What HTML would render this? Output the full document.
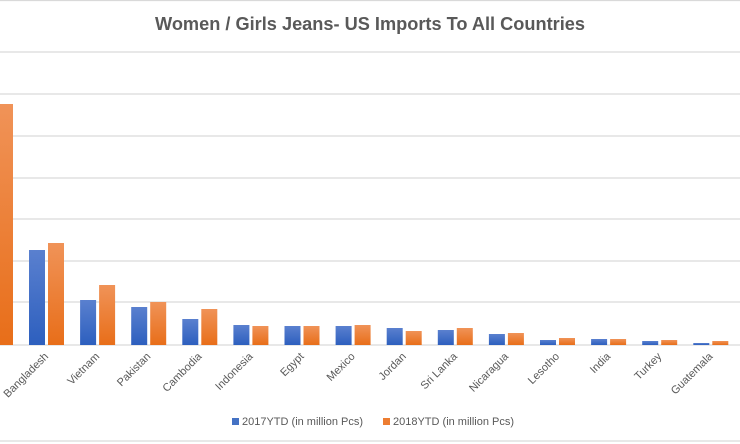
<!DOCTYPE html>
<html><head><meta charset="utf-8"><style>
html,body{margin:0;padding:0;background:#fff;}
svg{display:block;font-family:"Liberation Sans",sans-serif;}
</style></head><body>
<svg width="740" height="444" viewBox="0 0 740 444" xmlns="http://www.w3.org/2000/svg">
<defs>
<linearGradient id="b" x1="0" y1="0" x2="0" y2="1"><stop offset="0" stop-color="#5a80cf"/><stop offset="1" stop-color="#2d5fbe"/></linearGradient>
<linearGradient id="o" x1="0" y1="0" x2="0" y2="1"><stop offset="0" stop-color="#f09358"/><stop offset="1" stop-color="#e86e19"/></linearGradient>
</defs>
<rect width="740" height="444" fill="#fff"/>
<g stroke="#d9d9d9" stroke-width="1.2">
<line x1="0" y1="0.5" x2="740" y2="0.5"/>
<line x1="0" y1="52" x2="740" y2="52"/>
<line x1="0" y1="94" x2="740" y2="94"/>
<line x1="0" y1="136" x2="740" y2="136"/>
<line x1="0" y1="178" x2="740" y2="178"/>
<line x1="0" y1="219" x2="740" y2="219"/>
<line x1="0" y1="261" x2="740" y2="261"/>
<line x1="0" y1="302" x2="740" y2="302"/>
<line x1="0" y1="345" x2="740" y2="345"/>
<line x1="0" y1="441" x2="740" y2="441"/>
</g>
<text x="370" y="30" text-anchor="middle" font-size="18" font-weight="bold" fill="#595959" textLength="430" lengthAdjust="spacingAndGlyphs">Women / Girls Jeans- US Imports To All Countries</text>
<rect x="0" y="104" width="13" height="241" fill="url(#o)"/>
<g id="bars"></g>
<g id="labels" font-size="11" fill="#595959"></g>
<rect x="232" y="418" width="7" height="7" fill="#4472c4"/>
<text x="242" y="425" font-size="11" fill="#595959">2017YTD (in million Pcs)</text>
<rect x="383" y="418" width="7" height="7" fill="#ed7d31"/>
<text x="393" y="425" font-size="11" fill="#595959">2018YTD (in million Pcs)</text>
<script>
var names=["Bangladesh","Vietnam","Pakistan","Cambodia","Indonesia","Egypt","Mexico","Jordan","Sri Lanka","Nicaragua","Lesotho","India","Turkey","Guatemala"];
var bt=[250,300,307,319,325,326,326,328,330,334,340,339,341,343];
var ot=[243,285,302,309,326,326,325,331,328,333,338,339,340,341];
var g=document.getElementById("bars"),l=document.getElementById("labels"),ns="http://www.w3.org/2000/svg";
for(var i=0;i<14;i++){var c=46+i*51.1;
var r=document.createElementNS(ns,"rect");r.setAttribute("x",c-17);r.setAttribute("y",bt[i]);r.setAttribute("width",16);r.setAttribute("height",345-bt[i]);r.setAttribute("fill","url(#b)");g.appendChild(r);
r=document.createElementNS(ns,"rect");r.setAttribute("x",c+2);r.setAttribute("y",ot[i]);r.setAttribute("width",16);r.setAttribute("height",345-ot[i]);r.setAttribute("fill","url(#o)");g.appendChild(r);
var t=document.createElementNS(ns,"text");t.setAttribute("text-anchor","end");t.setAttribute("transform","translate("+(c+3)+",357) rotate(-45)");t.textContent=names[i];l.appendChild(t);}
</script>
</svg>
</body></html>
